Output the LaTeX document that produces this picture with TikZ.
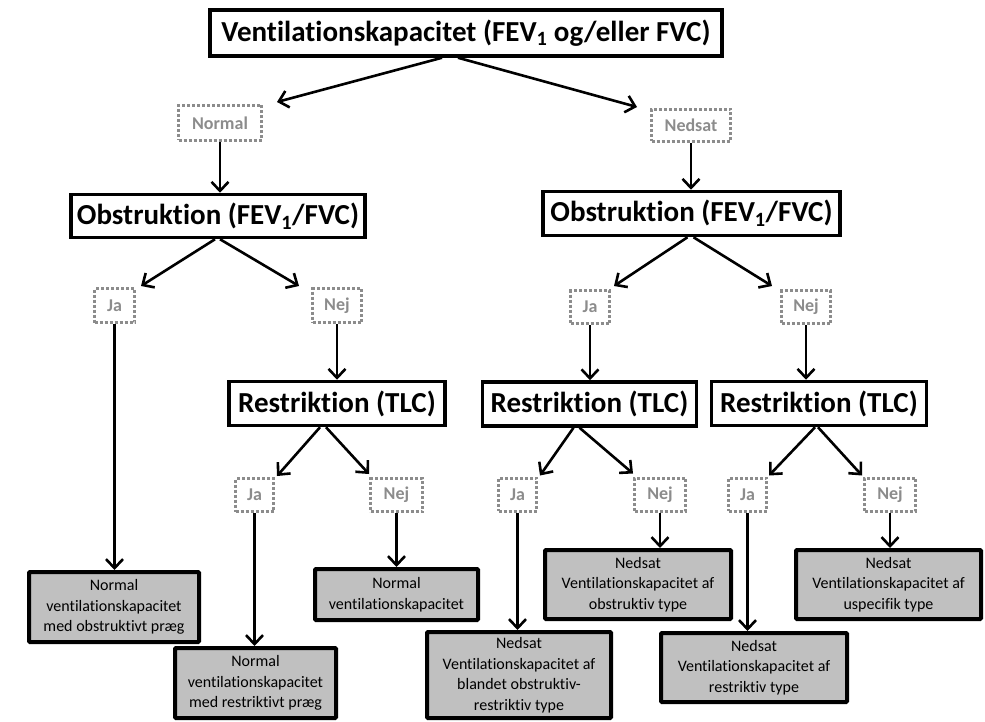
\documentclass[tikz,border=0pt]{standalone}
\usepackage{fontspec}
\setmainfont{Carlito}[Ligatures=NoCommon]
\usetikzlibrary{arrows.meta}
\definecolor{dotgray}{HTML}{8C8C8C}
\definecolor{leafgray}{HTML}{C0C0C0}
\tikzset{
  mainbox/.style={draw=black, line width=3.5pt, fill=white, inner sep=0pt,
    font=\fontsize{29}{32}\selectfont\bfseries},
  dotbox/.style={draw=dotgray, line width=3pt, dash pattern=on 3pt off 2pt,
    inner sep=0pt, text=dotgray, font=\fontsize{18}{20}\selectfont\bfseries},
  leafbox/.style={draw=black, line width=4pt, fill=leafgray, inner sep=0pt,
    align=center, rounded corners=1pt, font=\fontsize{16}{20.5}\selectfont},
  arr/.style={line width=2.6pt, -{Straight Barb[length=9pt,width=17pt]}},
}
\begin{document}
\begin{tikzpicture}[x=1pt,y=-1pt]
\useasboundingbox (0,0) rectangle (985,722);
% main boxes
\node[mainbox, minimum width=512, minimum height=46] (t) at (466,33) {Ventilationskapacitet (FEV\textsubscript{1} og/eller FVC)};
\node[mainbox, minimum width=294, minimum height=43] (obsL) at (218,216) {Obstruktion (FEV\textsubscript{1}/FVC)};
\node[mainbox, minimum width=297, minimum height=44] (obsR) at (691.5,213.5) {Obstruktion (FEV\textsubscript{1}/FVC)};
\node[mainbox, minimum width=216, minimum height=44] (resA) at (337,403.5) {Restriktion (TLC)};
\node[mainbox, minimum width=214, minimum height=44] (resB) at (589.5,404) {Restriktion (TLC)};
\node[mainbox, minimum width=215, minimum height=44] (resC) at (819,403.5) {Restriktion (TLC)};
% dotted labels
\node[dotbox, minimum width=83, minimum height=35] (normal) at (220,123) {Normal};
\node[dotbox, minimum width=79, minimum height=32] (nedsat) at (691,125.5) {Nedsat};
\node[dotbox, minimum width=40, minimum height=34] (jaA) at (114.5,305.5) {Ja};
\node[dotbox, minimum width=49, minimum height=34] (nejA) at (337,305.5) {Nej};
\node[dotbox, minimum width=39, minimum height=33] (jaB) at (590,307) {Ja};
\node[dotbox, minimum width=49, minimum height=33] (nejB) at (806,307) {Nej};
\node[dotbox, minimum width=38, minimum height=33] (jaC) at (254.5,495) {Ja};
\node[dotbox, minimum width=52, minimum height=33] (nejC) at (396.5,495) {Nej};
\node[dotbox, minimum width=38, minimum height=33] (jaD) at (517.5,494.5) {Ja};
\node[dotbox, minimum width=51, minimum height=33] (nejD) at (660,494.5) {Nej};
\node[dotbox, minimum width=38, minimum height=33] (jaE) at (747.5,494.5) {Ja};
\node[dotbox, minimum width=51, minimum height=33] (nejE) at (890,494.5) {Nej};
% leaves
\node[leafbox, minimum width=170, minimum height=70] (L1) at (114,607) {Normal\\ventilationskapacitet\\med obstruktivt præg};
\node[leafbox, minimum width=161, minimum height=70] (L2) at (255.5,683) {Normal\\ventilationskapacitet\\med restriktivt præg};
\node[leafbox, minimum width=163, minimum height=51] (L3) at (396.5,594.5) {Normal\\ventilationskapacitet};
\node[leafbox, minimum width=184, minimum height=86] (L4) at (519,675) {Nedsat\\Ventilationskapacitet af\\blandet obstruktiv-\\restriktiv type};
\node[leafbox, minimum width=186, minimum height=69] (L5) at (638,584.5) {Nedsat\\Ventilationskapacitet af\\obstruktiv type};
\node[leafbox, minimum width=186, minimum height=69] (L6) at (754,667.5) {Nedsat\\Ventilationskapacitet af\\restriktiv type};
\node[leafbox, minimum width=185, minimum height=69] (L7) at (888.5,584.5) {Nedsat\\Ventilationskapacitet af\\uspecifik type};
% arrows from title
\draw[arr] ([xshift=-24pt]t.south) -- ([shift={(14,-2)}]normal.north east);
\draw[arr] ([xshift=-8pt]t.south) -- ([shift={(-13,-1)}]nedsat.north west);
% verticals
\draw[arr] (normal.south) -- (normal.south |- obsL.north);
\draw[arr] (nedsat.south) -- (nedsat.south |- obsR.north);
\draw[arr] (nejA.south) -- (nejA.south |- resA.north);
\draw[arr] (jaB.south) -- (jaB.south |- resB.north);
\draw[arr] (nejB.south) -- (nejB.south |- resC.north);
\draw[arr] (jaA.south) -- (jaA.south |- L1.north);
\draw[arr] (jaC.south) -- (jaC.south |- L2.north);
\draw[arr] (nejC.south) -- (nejC.south |- L3.north);
\draw[arr] (jaD.south) -- (jaD.south |- L4.north);
\draw[arr] (nejD.south) -- (nejD.south |- L5.north);
\draw[arr] (jaE.south) -- (jaE.south |- L6.north);
\draw[arr] (nejE.south) -- (nejE.south |- L7.north);
% diagonals
\draw[arr] ([xshift=-3pt]obsL.south) -- ([shift={(5,-1)}]jaA.north east);
\draw[arr] ([xshift=2pt]obsL.south) -- ([shift={(-12,-1)}]nejA.north west);
\draw[arr] ([xshift=-4pt]obsR.south) -- ([shift={(3,-3)}]jaB.north east);
\draw[arr] ([xshift=2pt]obsR.south) -- ([shift={(-8,-3)}]nejB.north west);
\draw[arr] ([xshift=-17pt]resA.south) -- ([shift={(2,-1)}]jaC.north east);
\draw[arr] ([xshift=-11pt]resA.south) -- ([shift={(0,-3)}]nejC.north west);
\draw[arr] ([xshift=-16pt]resB.south) -- ([shift={(2,-1)}]jaD.north east);
\draw[arr] ([xshift=-10pt]resB.south) -- ([shift={(0,-3)}]nejD.north west);
\draw[arr] ([xshift=-4pt]resC.south) -- ([shift={(1,-1)}]jaE.north east);
\draw[arr] ([xshift=-1pt]resC.south) -- ([shift={(-1,-1)}]nejE.north west);
\end{tikzpicture}
\end{document}
